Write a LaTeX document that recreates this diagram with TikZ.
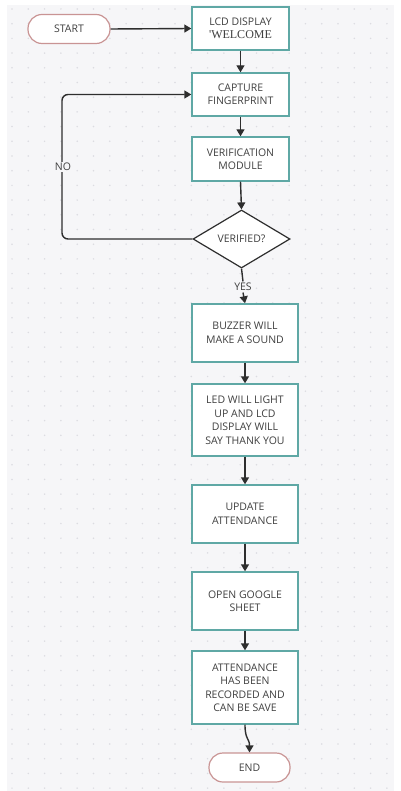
\documentclass[tikz,border=0pt]{standalone}
\usepackage{fontspec}
\setmainfont{Open Sans}
\newfontfamily\serifwelcome{Liberation Serif}
\usetikzlibrary{shapes.geometric,arrows.meta}
\definecolor{canvas}{HTML}{F6F6F8}
\definecolor{griddot}{HTML}{DCDCE1}
\definecolor{boxline}{HTML}{5FA8A5}
\definecolor{termline}{HTML}{C99494}
\definecolor{flowline}{HTML}{2E2E2E}
\definecolor{labeltext}{HTML}{404040}
\tikzset{
  procbox/.style={draw=boxline, line width=1.4pt, fill=white, rectangle,
    text=labeltext, align=center, inner sep=2pt,
    font=\fontsize{10.5}{13.5}\selectfont},
  termbox/.style={draw=termline, line width=1.2pt, fill=white, rectangle,
    rounded corners=14pt, minimum height=29pt, text=labeltext,
    font=\fontsize{10.5}{13.5}\selectfont},
  decbox/.style={draw=flowline, line width=1.2pt, fill=white, diamond,
    inner sep=0pt, minimum width=97pt, minimum height=58pt, text=labeltext,
    font=\fontsize{10.5}{13.5}\selectfont},
  flow/.style={draw=flowline, line width=1.4pt,
    -{Triangle[length=7pt,width=8pt]}},
  flowlabel/.style={fill=canvas, text=labeltext, inner sep=1.5pt,
    font=\fontsize{10.5}{12}\selectfont}
}
\begin{document}
\begin{tikzpicture}[x=1pt,y=-1pt]
  % page and dotted canvas
  \fill[white] (0,0) rectangle (400,791);
  \useasboundingbox (0,0) rectangle (400,791);
  \fill[canvas] (7,5) rectangle (394,791);
  \foreach \i in {0,...,23} {
    \foreach \j in {0,...,53} {
      \fill[griddot] (12+16.3*\i, 9+14.7*\j) circle (0.85pt);
    }
  }

  % nodes
  \node[termbox, minimum width=82pt] (start) at (69,29) {START};
  \node[procbox, minimum width=97pt, minimum height=43pt] (lcd) at (240.5,28.5)
    {LCD DISPLAY\\[-1pt]{\serifwelcome\fontsize{12}{13}\selectfont 'WELCOME}};
  \node[procbox, minimum width=97pt, minimum height=43pt] (cap) at (240.5,94.5)
    {CAPTURE\\FINGERPRINT};
  \node[procbox, minimum width=97pt, minimum height=44pt] (ver) at (240.5,159)
    {VERIFICATION\\MODULE};
  \node[decbox] (dec) at (241.5,239) {VERIFIED?};
  \node[flowlabel] (yes) at (243,287) {YES};
  \node[procbox, minimum width=106pt, minimum height=58pt] (buz) at (245,333)
    {BUZZER WILL\\MAKE A SOUND};
  \node[procbox, minimum width=106pt, minimum height=72pt] (led) at (245,420)
    {LED WILL LIGHT\\UP AND LCD\\DISPLAY WILL\\SAY THANK YOU};
  \node[procbox, minimum width=106pt, minimum height=58pt] (upd) at (245,514)
    {UPDATE\\ATTENDANCE};
  \node[procbox, minimum width=106pt, minimum height=58pt] (ogs) at (245,601)
    {OPEN GOOGLE\\SHEET};
  \node[procbox, minimum width=106pt, minimum height=73pt] (att) at (245,687.5)
    {ATTENDANCE\\HAS BEEN\\RECORDED AND\\CAN BE SAVE};
  \node[termbox, minimum width=81pt] (end) at (249.5,767.5) {END};
  \coordinate (loopbot) at (62,239);
  \coordinate (looptop) at (62,94.5);

  % connectors
  \draw[flow] (start.east) -- (lcd.west);
  \draw[flow] (lcd.south) -- (cap.north);
  \draw[flow] (cap.south) -- (ver.north);
  \draw[flow] (ver.south) -- (dec.north);
  \draw[flow, rounded corners=6pt] (dec.west) -- (loopbot) -- (looptop) -- (cap.west);
  \node[flowlabel] (no) at (63,167) {NO};
  \draw[draw=flowline, line width=1.4pt] (dec.south) -- (yes.north);
  \draw[flow] (yes.south) -- (buz.north);
  \draw[flow] (buz.south) -- (led.north);
  \draw[flow] (led.south) -- (upd.north);
  \draw[flow] (upd.south) -- (ogs.north);
  \draw[flow] (ogs.south) -- (att.north);
  \draw[flow] (att.south) .. controls (245,740) and (249.5,738) .. (end.north);
\end{tikzpicture}
\end{document}
